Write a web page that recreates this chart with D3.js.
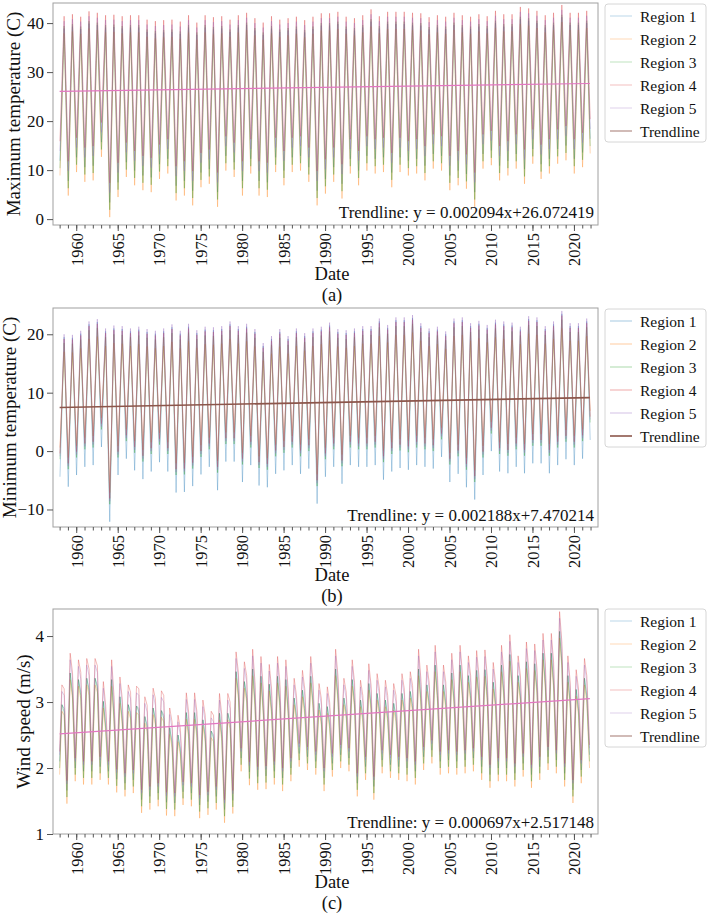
<!DOCTYPE html>
<html><head><meta charset="utf-8">
<script src="https://cdn.jsdelivr.net/npm/d3@7"></script>
<style>
body{margin:0;background:#fff}
svg{display:block}
text{font-family:"Liberation Serif","Times New Roman",serif;fill:#111}
</style>
</head><body>
<svg id="c" width="708" height="915"></svg>
<script>
// ---------------- DATA ----------------
const years = d3.range(1958, 2022);
const regions = ["Region 1", "Region 2", "Region 3", "Region 4", "Region 5"];
const regionColors = ["#1f77b4", "#ff7f0e", "#2ca02c", "#d62728", "#9467bd"];
const xTickYears = [1960, 1965, 1970, 1975, 1980, 1985, 1990, 1995, 2000, 2005, 2010, 2015, 2020];

// (a) maximum temperature: yearly summer peak / winter trough (envelope)
const tmaxHigh = [41.4,41.8,41.3,42.4,42.1,41.6,41.7,41.4,41.6,41.6,
  40.7,40.4,40.6,40.7,40.3,41.6,40.1,41.6,41.2,41.4,
  40.7,41.6,42.1,41.0,40.1,41.4,40.7,41.0,41.3,40.6,
  41.3,42.0,42.0,42.3,41.3,41.0,41.6,42.8,41.4,42.3,
  42.3,42.3,42.1,42.0,41.2,41.6,41.3,42.1,41.6,41.3,
  41.8,41.4,42.5,41.8,41.8,43.3,43.0,42.5,41.6,42.1,
  43.7,42.1,42.1,42.5];
const tmaxLow = [8.9,4.8,9.6,7.6,7.9,12.7,0.4,4.5,8.6,6.9,
  5.9,5.5,8.2,9.3,3.8,4.8,2.8,6.5,7.2,2.5,
  9.9,8.6,4.8,9.3,4.8,4.5,9.6,6.9,9.6,9.9,
  7.6,2.8,5.2,7.6,4.2,9.3,6.9,9.9,9.3,9.6,
  6.5,9.6,8.9,9.3,7.9,10.3,9.9,5.9,6.9,6.2,
  2.5,10.3,11.0,7.9,8.9,10.3,7.2,11.3,8.2,9.3,
  11.3,12.0,9.3,10.6];
const tmaxEnd = 13.4;
const tmaxHighGap = [2.5, 3.5, 2.0, 0.0, 1.0];
const tmaxLowGap = [3.0, 0.0, 1.5, 7.0, 5.0];
const tmaxTrend = [0.002094, 26.072419];

// (b) minimum temperature
const tminHigh = [20.0,19.9,20.6,22.2,22.6,21.0,21.5,21.4,21.0,21.3,
  20.9,20.6,21.0,21.7,20.6,21.8,20.7,21.3,21.2,21.4,
  22.2,21.4,21.8,20.9,18.5,19.7,20.9,19.7,21.0,20.2,
  21.0,21.3,22.0,20.9,20.7,21.0,21.4,21.4,22.7,21.6,
  22.9,22.9,23.3,21.9,21.0,21.3,20.5,22.7,22.9,21.9,
  22.3,21.6,22.5,22.2,22.0,21.3,23.1,22.9,21.4,22.2,
  24.0,21.9,21.9,22.7];
const tminLow = [-4.4,-6.1,-4.1,-2.7,-2.4,0.7,-12.1,-4.1,-1.3,-3.3,
  -4.8,-3.5,-1.9,-3.5,-7.1,-7.0,-6.0,-4.0,-2.7,-6.7,
  -1.8,-1.8,-5.3,-2.4,-5.9,-6.2,-3.9,-3.3,-2.4,-3.9,
  -3.0,-9.0,-4.4,-2.7,-5.6,-2.4,-2.7,-2.7,-2.4,-4.9,
  -3.5,-2.9,-3.2,-2.4,-2.7,-3.0,-1.0,-5.3,-3.9,-6.2,
  -8.3,-4.1,0.0,-3.5,-3.8,-2.7,-3.8,-2.1,-2.1,-3.8,
  -2.4,-1.4,-2.4,-1.3];
const tminEnd = 1.9;
const tminHighGap = [0.5, 3.0, 1.5, 0.8, 0.0];
const tminLowGap = [0.0, 5.0, 3.0, 4.0, 3.5];
const tminTrend = [0.002188, 7.470214];

// (c) wind speed: spring peak, summer plateau, late-year trough
const windHigh = [3.26,3.74,3.64,3.66,3.66,3.31,3.64,3.38,3.26,3.24,
  3.08,3.21,3.17,2.91,2.80,3.14,3.14,3.03,2.86,3.13,
  3.13,3.76,3.61,3.80,3.69,3.57,3.69,3.64,3.36,3.48,
  3.69,3.28,3.23,3.80,3.36,3.64,3.33,3.58,3.43,3.33,
  3.28,3.43,3.46,3.80,3.56,3.86,3.56,3.74,3.86,3.70,
  3.78,3.79,3.60,3.86,4.02,3.70,3.91,3.88,4.04,4.04,
  4.37,3.70,3.49,3.66];
const windMid = [3.20,3.45,3.45,3.50,3.55,2.95,3.10,3.05,3.15,3.20,
  2.95,3.05,3.10,2.70,2.60,2.85,2.85,2.80,2.80,2.80,
  3.00,3.45,3.40,3.30,3.20,3.20,3.30,3.20,3.10,3.20,
  3.30,3.05,3.00,3.40,3.15,3.30,3.10,3.25,3.20,3.10,
  3.10,3.20,3.25,3.35,3.30,3.40,3.30,3.35,3.45,3.40,
  3.40,3.40,3.30,3.45,3.55,3.40,3.50,3.50,3.60,3.60,
  3.90,3.30,3.20,3.40];
const windLow = [1.46,1.80,1.75,1.75,1.82,1.75,1.63,1.57,1.62,1.32,
  1.37,1.42,1.28,1.27,1.44,1.42,1.24,1.29,1.37,1.17,
  1.31,1.95,1.74,1.67,1.68,1.75,1.65,1.80,2.02,1.97,
  1.90,1.65,1.87,2.00,1.95,1.57,1.82,1.52,1.92,1.85,
  1.82,1.80,1.75,1.97,2.07,1.90,1.92,1.90,1.92,1.95,
  1.82,1.70,1.80,1.80,1.72,1.87,1.70,1.82,1.97,1.92,
  1.72,1.47,1.77,2.00];
const windStart = 1.9;
const windHighGap = [0.30, 0.40, 0.30, 0.00, 0.10];
const windMidGap = [0.30, 0.40, 0.35, 0.00, 0.10];
const windLowGap = [0.20, 0.00, 0.10, 0.35, 0.30];
const windTrend = [0.000697, 2.517148];

// ---------------- DRAW ----------------
const svg = d3.select("#c");
const x = d3.scaleLinear().domain([1957.2, 2022.9]).range([53, 598]);
const L = 53, R = 598;

function tempSeries(high, low, end, hg, lg, r) {
  const pts = [];
  years.forEach((Y, i) => {
    pts.push([Y + 0.04, low[i] + lg[r]]);
    pts.push([Y + 0.54, high[i] - hg[r]]);
  });
  pts.push([2021.96, end + lg[r]]);
  return pts;
}
function windSeries(r) {
  const pts = [[1958.0, windStart + windLowGap[r]]];
  years.forEach((Y, i) => {
    pts.push([Y + 0.27, windHigh[i] - windHighGap[r]]);
    pts.push([Y + 0.55, windMid[i] - windMidGap[r]]);
    pts.push([Y + 0.88, windLow[i] + windLowGap[r]]);
  });
  return pts;
}

const panels = [
  {id: "a", top: 3, bottom: 225, domain: [-1.2, 44.1], yticks: [0, 10, 20, 30, 40],
   ylabel: "Maximum temperature (C)", ylabelX: 20,
   series: regions.map((_, r) => tempSeries(tmaxHigh, tmaxLow, tmaxEnd, tmaxHighGap, tmaxLowGap, r)),
   trend: tmaxTrend, trendColor: "#e377c2", trendW: 1.2,
   text: "Trendline: y = 0.002094x+26.072419", textY: 218, dateY: 280, capY: 301, cap: "(a)",
   legendTop: 4, alpha: 0.38, legAlpha: 0.3},
  {id: "b", top: 308, bottom: 527, domain: [-13.0, 24.5], yticks: [-10, 0, 10, 20],
   ylabel: "Minimum temperature (C)", ylabelX: 16,
   series: regions.map((_, r) => tempSeries(tminHigh, tminLow, tminEnd, tminHighGap, tminLowGap, r)),
   trend: tminTrend, trendColor: "#8c564b", trendW: 1.6,
   text: "Trendline: y = 0.002188x+7.470214", textY: 521, dateY: 581, capY: 602, cap: "(b)",
   legendTop: 309, alpha: 0.38, legAlpha: 0.4},
  {id: "c", top: 609, bottom: 834, domain: [1.0, 4.41], yticks: [1, 2, 3, 4],
   ylabel: "Wind speed (m/s)", ylabelX: 30,
   series: regions.map((_, r) => windSeries(r)),
   trend: windTrend, trendColor: "#e377c2", trendW: 1.2,
   text: "Trendline: y = 0.000697x+2.517148", textY: 828, dateY: 888, capY: 909, cap: "(c)",
   legendTop: 609, alpha: 0.38, legAlpha: 0.3}
];

panels.forEach(p => {
  const y = d3.scaleLinear().domain(p.domain).range([p.bottom, p.top]);
  const g = svg.append("g");
  const clipId = "clip" + p.id;
  svg.append("clipPath").attr("id", clipId).append("rect")
    .attr("x", L).attr("y", p.top).attr("width", R - L).attr("height", p.bottom - p.top);

  const line = d3.line().x(d => x(d[0])).y(d => y(d[1]));
  const lg = g.append("g").attr("clip-path", `url(#${clipId})`);
  p.series.forEach((s, r) => {
    lg.append("path").attr("d", line(s)).attr("fill", "none")
      .attr("stroke", regionColors[r]).attr("stroke-width", 0.85)
      .attr("stroke-opacity", p.alpha).attr("stroke-linejoin", "round");
  });
  // trendline from fit (month index 0..767)
  const tr = [0, 767].map(m => [1958 + m / 12, p.trend[0] * m + p.trend[1]]);
  lg.append("path").attr("d", line(tr)).attr("fill", "none")
    .attr("stroke", p.trendColor).attr("stroke-width", p.trendW);

  // frame
  g.append("rect").attr("x", L).attr("y", p.top).attr("width", R - L).attr("height", p.bottom - p.top)
    .attr("fill", "none").attr("stroke", "#a0a0a0").attr("stroke-width", 1);

  // y axis
  const ya = g.append("g").attr("transform", `translate(${L},0)`)
    .call(d3.axisLeft(y).tickValues(p.yticks).tickSize(6).tickPadding(3).tickFormat(d3.format("d")));
  ya.select(".domain").remove();
  ya.selectAll("line").attr("stroke", "#555");
  ya.selectAll("text").attr("font-size", "17px").attr("fill", "#111")
    .style("font-family", "'Liberation Serif',serif").text(d => d < 0 ? "\u2212" + Math.abs(d) : d);

  // x axis minor
  const xm = g.append("g").attr("transform", `translate(0,${p.bottom})`)
    .call(d3.axisBottom(x).tickValues(d3.range(1958, 2023)).tickSize(3.5).tickFormat(""));
  xm.select(".domain").remove();
  xm.selectAll("line").attr("stroke", "#555");
  // x axis major
  const xa = g.append("g").attr("transform", `translate(0,${p.bottom})`)
    .call(d3.axisBottom(x).tickValues(xTickYears).tickSize(6).tickFormat(d3.format("d")));
  xa.select(".domain").remove();
  xa.selectAll("line").attr("stroke", "#555");
  xa.selectAll("text").attr("font-size", "16.5px").attr("fill", "#111")
    .style("font-family", "'Liberation Serif',serif")
    .attr("transform", "rotate(-90)").attr("x", -8).attr("y", 0).attr("dy", "0.35em")
    .attr("text-anchor", "end");

  // labels
  g.append("text").attr("transform", `translate(${p.ylabelX},${(p.top + p.bottom) / 2}) rotate(-90)`)
    .attr("text-anchor", "middle").attr("font-size", "19px").text(p.ylabel);
  g.append("text").attr("x", 332).attr("y", p.dateY).attr("text-anchor", "middle")
    .attr("font-size", "18.5px").text("Date");
  g.append("text").attr("x", 332).attr("y", p.capY).attr("text-anchor", "middle")
    .attr("font-size", "18.5px").text(p.cap);
  g.append("text").attr("x", 594).attr("y", p.textY).attr("text-anchor", "end")
    .attr("font-size", "17px").text(p.text);

  // legend
  const leg = g.append("g").attr("transform", `translate(605,${p.legendTop})`);
  leg.append("rect").attr("width", 101).attr("height", 138).attr("rx", 3)
    .attr("fill", "#fff").attr("stroke", "#d6d6d6");
  const entries = regions.map((n, r) => ({name: n, color: regionColors[r], op: p.legAlpha, w: 1}))
    .concat([{name: "Trendline", color: "#8c564b", op: 0.8, w: p.id === "b" ? 2 : 1}]);
  entries.forEach((e, i) => {
    const cy = 12 + i * 23;
    leg.append("line").attr("x1", 5).attr("x2", 27).attr("y1", cy).attr("y2", cy)
      .attr("stroke", e.color).attr("stroke-opacity", e.op).attr("stroke-width", e.w);
    leg.append("text").attr("x", 35).attr("y", cy + 5.5).attr("font-size", "15.5px").text(e.name);
  });
});
</script>
</body></html>
